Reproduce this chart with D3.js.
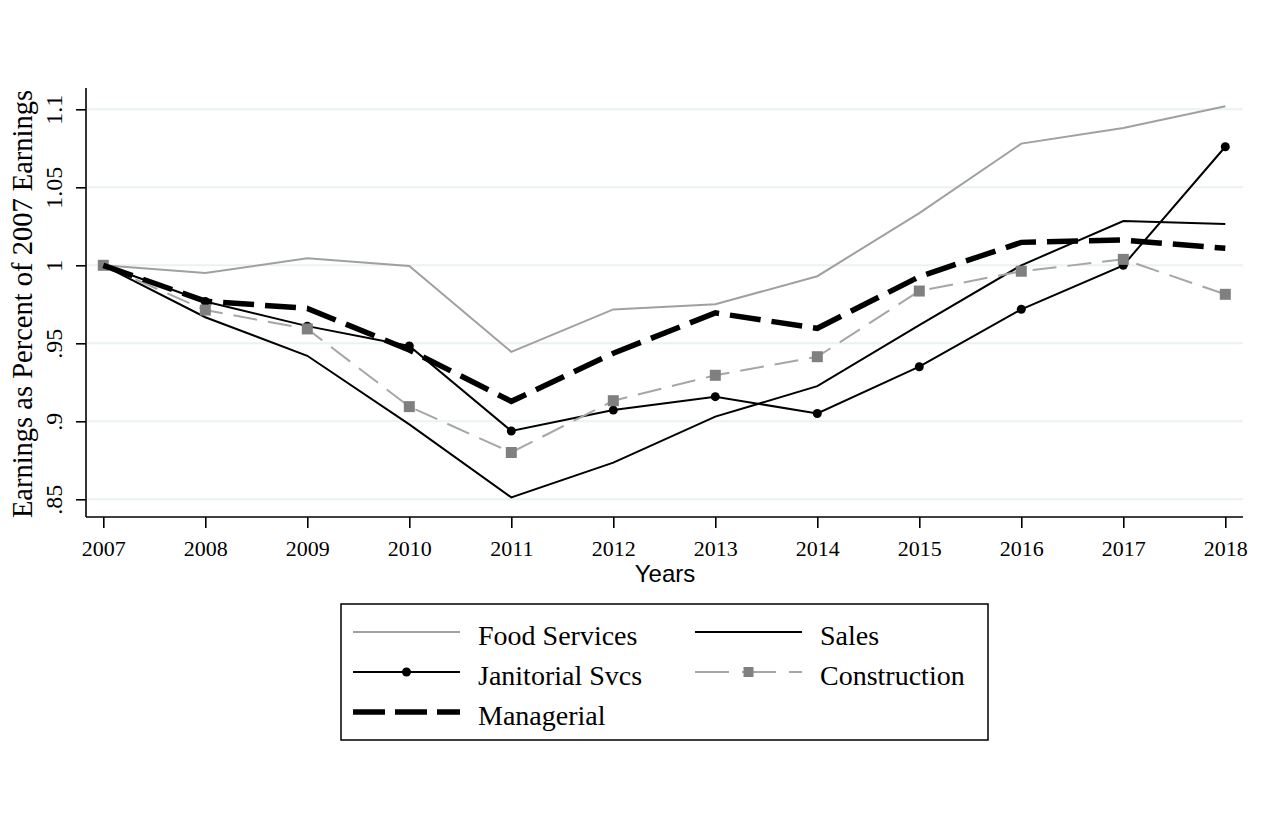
<!DOCTYPE html>
<html>
<head>
<meta charset="utf-8">
<script src="https://cdn.jsdelivr.net/npm/d3@7"></script>
<style>
  html, body { margin: 0; padding: 0; background: #fff; }
  svg { display: block; }
</style>
</head>
<body>
<div id="chart"></div>
<script>
// ---- data ----
const years = [2007, 2008, 2009, 2010, 2011, 2012, 2013, 2014, 2015, 2016, 2017, 2018];
const foodServices = [1.000, 0.995, 1.0045, 0.9995, 0.9445, 0.9717, 0.975, 0.993, 1.0335, 1.078, 1.088, 1.102];
const sales        = [1.000, 0.9667, 0.942, 0.898, 0.8512, 0.8735, 0.903, 0.9225, 0.9617, 1.000, 1.0284, 1.0265];
const janitorial   = [1.000, 0.9768, 0.961, 0.9483, 0.8938, 0.9072, 0.9158, 0.905, 0.935, 0.9718, 1.000, 1.076];
const construction = [1.000, 0.9713, 0.9592, 0.9094, 0.880, 0.9132, 0.9295, 0.9414, 0.9835, 0.9962, 1.0038, 0.9814];
const managerial   = [1.000, 0.977, 0.9724, 0.9457, 0.9128, 0.9436, 0.9695, 0.9596, 0.9927, 1.0147, 1.0162, 1.0109];
const yTicks = [0.85, 0.9, 0.95, 1, 1.05, 1.1];
const yTickLabels = [".85", ".9", ".95", "1", "1.05", "1.1"];
const yTitle = "Earnings as Percent of 2007 Earnings";
const xTitle = "Years";

const W = 1263, H = 820;
const svg = d3.select("#chart").append("svg").attr("width", W).attr("height", H);

const plotLeft = 86, plotRight = 1243, plotTop = 88, plotBottom = 517;
const x = d3.scaleLinear().domain([2007, 2018]).range([103.3, 1225.3]);
const y = d3.scaleLinear().domain([0.85, 1.1]).range([499.3, 109.3]);

const serif = "'Liberation Serif', 'Times New Roman', serif";
const sans = "'Liberation Sans', Arial, sans-serif";

// gridlines
svg.append("g").selectAll("line").data(yTicks).join("line")
  .attr("x1", plotLeft).attr("x2", plotRight)
  .attr("y1", d => y(d)).attr("y2", d => y(d))
  .attr("stroke", "#eaf2f3").attr("stroke-width", 2);

// y axis
const yAxis = d3.axisLeft(y).tickValues(yTicks)
  .tickFormat((d, i) => yTickLabels[i]).tickSize(10).tickSizeOuter(0);
const gy = svg.append("g").attr("transform", `translate(${plotLeft},0)`).call(yAxis);
gy.select(".domain").remove();
gy.selectAll(".tick line").attr("stroke", "#000").attr("stroke-width", 1.6);
gy.selectAll(".tick text")
  .attr("font-family", serif).attr("font-size", 24).attr("fill", "#000")
  .attr("text-anchor", "middle")
  .attr("transform", "rotate(-90)")
  .attr("x", 0).attr("y", -24).attr("dy", 0);
svg.append("line").attr("x1", plotLeft).attr("x2", plotLeft)
  .attr("y1", plotTop).attr("y2", plotBottom).attr("stroke", "#000").attr("stroke-width", 1.6);

// x axis
const xAxis = d3.axisBottom(x).tickValues(years).tickFormat(d3.format("d")).tickSize(11).tickSizeOuter(0);
const gx = svg.append("g").attr("transform", `translate(0,${plotBottom})`).call(xAxis);
gx.select(".domain").remove();
gx.selectAll(".tick line").attr("stroke", "#000").attr("stroke-width", 1.6);
gx.selectAll(".tick text").attr("font-family", serif).attr("font-size", 22).attr("fill", "#000")
  .attr("y", 39).attr("dy", 0);
svg.append("line").attr("x1", plotLeft).attr("x2", plotRight)
  .attr("y1", plotBottom).attr("y2", plotBottom).attr("stroke", "#000").attr("stroke-width", 1.6);

// axis titles
svg.append("text").attr("transform", `translate(32,304) rotate(-90)`)
  .attr("text-anchor", "middle").attr("font-family", serif).attr("font-size", 28.5)
  .text(yTitle);
svg.append("text").attr("x", 665).attr("y", 582).attr("text-anchor", "middle")
  .attr("font-family", sans).attr("font-size", 24).text(xTitle);

// series
const series = [
  { name: "Food Services", values: foodServices, color: "#a0a0a0", width: 2, dash: null, marker: null },
  { name: "Sales", values: sales, color: "#000", width: 2, dash: null, marker: null },
  { name: "Janitorial Svcs", values: janitorial, color: "#000", width: 2, dash: null, marker: "circle" },
  { name: "Construction", values: construction, color: "#a6a6a6", width: 2, dash: "24,11", marker: "square" },
  { name: "Managerial", values: managerial, color: "#000", width: 5.5, dash: "31,11", marker: null }
];

const line = d3.line().x((d, i) => x(years[i])).y(d => y(d));

series.forEach(s => {
  svg.append("path").datum(s.values)
    .attr("d", line).attr("fill", "none")
    .attr("stroke", s.color).attr("stroke-width", s.width)
    .attr("stroke-dasharray", s.dash)
    .attr("stroke-linejoin", "miter");
  if (s.marker === "circle") {
    svg.append("g").selectAll("circle").data(s.values).join("circle")
      .attr("cx", (d, i) => x(years[i])).attr("cy", d => y(d)).attr("r", 4.5).attr("fill", "#000");
  } else if (s.marker === "square") {
    svg.append("g").selectAll("rect").data(s.values).join("rect")
      .attr("x", (d, i) => x(years[i]) - 5.5).attr("y", d => y(d) - 5.5)
      .attr("width", 11).attr("height", 11).attr("fill", "#808080");
  }
});

// legend
const lg = svg.append("g");
lg.append("rect").attr("x", 341).attr("y", 604).attr("width", 647).attr("height", 136)
  .attr("fill", "#fff").attr("stroke", "#000").attr("stroke-width", 1.5);
const legendPos = [
  { col: 0, row: 0 },
  { col: 1, row: 0 },
  { col: 0, row: 1 },
  { col: 1, row: 1 },
  { col: 0, row: 2 }
];
const colLineX = [353, 695], colLineW = 107, colTextX = [478, 820];
const rowY = [632, 672, 712];
series.forEach((s, i) => {
  const p = legendPos[i];
  const lx = colLineX[p.col], ly = rowY[p.row];
  lg.append("line").attr("x1", lx).attr("x2", lx + colLineW).attr("y1", ly).attr("y2", ly)
    .attr("stroke", s.color).attr("stroke-width", s.width)
    .attr("stroke-dasharray", s.name === "Managerial" ? "32,10" : (s.dash ? "34,13" : null));
  if (s.marker === "circle") {
    lg.append("circle").attr("cx", lx + colLineW / 2).attr("cy", ly).attr("r", 4.5).attr("fill", "#000");
  } else if (s.marker === "square") {
    lg.append("rect").attr("x", lx + colLineW / 2 - 5).attr("y", ly - 5).attr("width", 10).attr("height", 10).attr("fill", "#808080");
  }
  lg.append("text").attr("x", colTextX[p.col]).attr("y", ly + 13)
    .attr("font-family", serif).attr("font-size", 28).attr("fill", "#000").text(s.name);
});
</script>
</body>
</html>
